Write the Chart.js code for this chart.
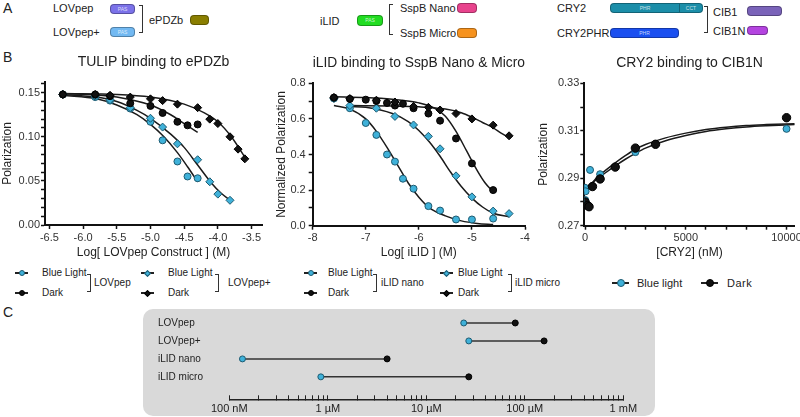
<!DOCTYPE html>
<html><head><meta charset="utf-8">
<script src="https://cdn.jsdelivr.net/npm/chart.js@4.4.1/dist/chart.umd.min.js"></script>
<style>
html,body{margin:0;padding:0;background:#fff;overflow:hidden}
body{width:800px;height:417px;position:relative;font-family:"Liberation Sans",Arial,Helvetica,sans-serif;color:#222}
.t{position:absolute;white-space:nowrap;line-height:1;transform:translateY(-50%)}
.pill{position:absolute;box-sizing:border-box;border-radius:4px;border:1px solid rgba(0,0,0,.3);font-size:5px;line-height:1;color:rgba(255,255,255,.75);display:flex;align-items:center;justify-content:center}
.br{position:absolute;box-sizing:border-box;border:1.2px solid #333}
canvas{position:absolute;z-index:5}
#cbox{position:absolute;left:143px;top:309px;width:512px;height:107px;background:#d9d9d9;border-radius:10px;z-index:1}
.mk{position:absolute;height:1.5px;background:#222}
.sym{position:absolute;box-sizing:border-box}
#legends{position:absolute;left:0;top:0;width:0;height:0}
</style></head>
<body>
<div class="t" style="left:3px;top:8px;font-size:14px">A</div>
<div class="t" style="left:3px;top:57px;font-size:14px">B</div>
<div class="t" style="left:3px;top:312px;font-size:14px">C</div>

<div class="t" style="left:53px;top:8px;font-size:11px">LOVpep</div>
<div class="t" style="left:53px;top:32px;font-size:11px">LOVpep+</div>
<div class="pill" style="left:110px;top:4px;width:25px;height:10px;background:#7b72e9">PAS</div>
<div class="pill" style="left:110px;top:27px;width:25px;height:10px;background:#72b9f2">PAS</div>
<div class="br" style="left:139px;top:5px;width:4px;height:28px;border-left:none"></div>
<div class="t" style="left:149px;top:20px;font-size:11px">ePDZb</div>
<div class="pill" style="left:190px;top:15px;width:19px;height:10px;background:#8a7e00"></div>
<div class="t" style="left:320px;top:21px;font-size:11px">iLID</div>
<div class="pill" style="left:357px;top:15px;width:26px;height:11px;background:#22dd22">PAS</div>
<div class="br" style="left:389px;top:4px;width:4px;height:31px;border-right:none"></div>
<div class="t" style="left:400px;top:8px;font-size:11px">SspB Nano</div>
<div class="pill" style="left:457px;top:3px;width:20px;height:10px;background:#e8438d"></div>
<div class="t" style="left:400px;top:33px;font-size:11px">SspB Micro</div>
<div class="pill" style="left:457px;top:28px;width:20px;height:10px;background:#f6921e"></div>
<div class="t" style="left:557px;top:8px;font-size:11px">CRY2</div>
<div class="pill" style="left:610px;top:3px;width:70px;height:10px;background:#1b8ea9;border-radius:4px 0 0 4px">PHR</div>
<div class="pill" style="left:679px;top:3px;width:24px;height:10px;background:#1b8ea9;border-radius:0 4px 4px 0">CCT</div>
<div class="t" style="left:557px;top:33px;font-size:11px">CRY2PHR</div>
<div class="pill" style="left:610px;top:28px;width:69px;height:10px;background:#1a4ff0">PHR</div>
<div class="br" style="left:704px;top:6px;width:4px;height:27px;border-left:none"></div>
<div class="t" style="left:713px;top:12px;font-size:11px">CIB1</div>
<div class="pill" style="left:747px;top:6px;width:35px;height:10px;background:#7a63b9"></div>
<div class="t" style="left:713px;top:31px;font-size:11px">CIB1N</div>
<div class="pill" style="left:747px;top:26px;width:21px;height:9px;background:#b444e0"></div>

<div id="legends"></div>
<div id="cbox"></div>
<canvas id="b1" width="270" height="210" style="left:0;top:50px"></canvas>
<canvas id="b2" width="263" height="210" style="left:272px;top:50px"></canvas>
<canvas id="b3" width="264" height="210" style="left:536px;top:50px"></canvas>
<canvas id="c1" width="490" height="108" style="left:158px;top:309px"></canvas>

<script>
// ================= DATA =================
// B1: TULIP binding to ePDZb (x = log[M], y = polarization)
const lovpepX        = [-6.3, -5.82, -5.6, -5.3, -5.0, -4.82, -4.6, -4.45, -4.3];
const lovpepBlue     = [0.148, 0.145, 0.141, 0.132, 0.117, 0.096, 0.072, 0.055, 0.053];
const lovpepDark     = [0.148, 0.148, 0.146, 0.138, 0.135, 0.127, 0.117, 0.113, 0.114];
const lovpepPlusX    = [-6.3, -5.82, -5.6, -5.3, -5.0, -4.82, -4.6, -4.3, -4.12, -4.0, -3.82, -3.7, -3.6];
const lovpepPlusBlue = [0.148, 0.146, 0.142, 0.133, 0.121, 0.111, 0.092, 0.074, 0.049, 0.035, 0.028];
const lovpepPlusDark = [0.148, 0.148, 0.147, 0.145, 0.143, 0.141, 0.137, 0.133, 0.120, 0.115, 0.100, 0.086, 0.075];
// fitted curves
const lovpepBlueFitX = [-6.3, -5.8, -5.5, -5.2, -5.0, -4.8, -4.6, -4.45, -4.3];
const lovpepBlueFitY = [0.147, 0.143, 0.136, 0.125, 0.114, 0.100, 0.082, 0.066, 0.049];
const lovpepDarkFitX = [-6.3, -5.8, -5.5, -5.0, -4.7, -4.5, -4.3];
const lovpepDarkFitY = [0.149, 0.1475, 0.145, 0.136, 0.125, 0.115, 0.105];
const lovpepPlusBlueFitX = [-6.3, -5.8, -5.5, -5.2, -5.0, -4.7, -4.5, -4.3, -4.1, -3.95, -3.8];
const lovpepPlusBlueFitY = [0.148, 0.145, 0.140, 0.130, 0.121, 0.103, 0.088, 0.068, 0.048, 0.036, 0.027];
const lovpepPlusDarkFitX = [-6.3, -5.5, -5.0, -4.5, -4.2, -4.0, -3.8, -3.6];
const lovpepPlusDarkFitY = [0.149, 0.148, 0.145, 0.137, 0.127, 0.117, 0.100, 0.077];
const b1XTicks = [-6.5, -6.0, -5.5, -5.0, -4.5, -4.0, -3.5];
const b1XLabels = ['-6.5', '-6.0', '-5.5', '-5.0', '-4.5', '-4.0', '-3.5'];
const b1YTicks = [0, 0.05, 0.10, 0.15];
const b1YLabels = ['0.00', '0.05', '0.10', '0.15'];

// B2: iLID binding to SspB Nano & Micro
const nanoX      = [-7.6, -7.3, -7.0, -6.8, -6.6, -6.45, -6.3, -6.1, -5.82, -5.6, -5.3, -5.0, -4.6];
const nanoBlue   = [0.715, 0.66, 0.577, 0.51, 0.40, 0.36, 0.264, 0.208, 0.11, 0.085, 0.035, 0.035, 0.04];
const nanoDark   = [0.72, 0.712, 0.708, 0.70, 0.69, 0.675, 0.685, 0.66, 0.63, 0.59, 0.49, 0.35, 0.20];
const microX     = [-7.6, -7.3, -6.8, -6.45, -6.1, -5.82, -5.6, -5.3, -5.0, -4.6, -4.3];
const microBlue  = [0.715, 0.675, 0.66, 0.614, 0.566, 0.502, 0.432, 0.28, 0.162, 0.082, 0.068];
const microDark  = [0.72, 0.714, 0.705, 0.695, 0.67, 0.665, 0.65, 0.63, 0.60, 0.565, 0.505];
const nanoBlueFitX  = [-7.6, -7.3, -7.0, -6.8, -6.6, -6.4, -6.2, -6.0, -5.8, -5.5, -5.2, -4.9, -4.6];
const nanoBlueFitY  = [0.675, 0.655, 0.60, 0.53, 0.44, 0.34, 0.24, 0.16, 0.10, 0.055, 0.027, 0.013, 0.007];
const microBlueFitX = [-7.3, -7.0, -6.5, -6.2, -6.0, -5.8, -5.6, -5.4, -5.2, -5.0, -4.8, -4.6, -4.3];
const microBlueFitY = [0.67, 0.665, 0.63, 0.585, 0.535, 0.47, 0.39, 0.30, 0.22, 0.155, 0.105, 0.07, 0.05];
const nanoDarkFitX  = [-7.6, -7.0, -6.5, -6.0, -5.7, -5.5, -5.3, -5.1, -4.9, -4.75, -4.6];
const nanoDarkFitY  = [0.725, 0.72, 0.71, 0.69, 0.66, 0.615, 0.53, 0.42, 0.31, 0.24, 0.19];
const microDarkFitX = [-7.3, -6.5, -6.0, -5.5, -5.2, -5.0, -4.8, -4.6, -4.45, -4.3];
const microDarkFitY = [0.675, 0.672, 0.668, 0.655, 0.635, 0.61, 0.58, 0.55, 0.52, 0.495];
const b2XTicks = [-8, -7, -6, -5, -4];
const b2XLabels = ['-8', '-7', '-6', '-5', '-4'];
const b2YTicks = [0, 0.2, 0.4, 0.6, 0.8];
const b2YLabels = ['0.0', '0.2', '0.4', '0.6', '0.8'];

// B3: CRY2 binding to CIB1N (x = nM)
const cryBlueX = [0, 15, 30, 250, 750, 2500, 10000];
const cryBlue  = [0.2860, 0.2808, 0.2845, 0.2935, 0.2917, 0.3010, 0.3108];
const cryDarkX = [0, 125, 200, 370, 750, 1500, 2500, 3500, 10000];
const cryDark  = [0.2800, 0.2785, 0.2780, 0.2865, 0.2897, 0.2947, 0.3027, 0.3043, 0.3155];
const cryFitX     = [0, 250, 500, 1000, 1500, 2000, 2500, 3000, 4000, 5000, 6000, 7000, 8000, 9000, 10400];
const cryDarkFitY = [0.2852, 0.2870, 0.2895, 0.2932, 0.2965, 0.2995, 0.3022, 0.3042, 0.3070, 0.3090, 0.3105, 0.3115, 0.3122, 0.3126, 0.3130];
const cryBlueFitY = [0.2858, 0.2872, 0.2890, 0.2922, 0.2952, 0.2980, 0.3005, 0.3027, 0.3058, 0.3080, 0.3097, 0.3108, 0.3116, 0.3121, 0.3126];
const b3XTicks = [0, 5000, 10000];
const b3XLabels = ['0', '5000', '10000'];
const b3YTicks = [0.27, 0.29, 0.31, 0.33];
const b3YLabels = ['0.27', '0.29', '0.31', '0.33'];

// C: affinity ranges (µM)
const cRows   = ['LOVpep', 'LOVpep+', 'iLID nano', 'iLID micro'];
const kdBlue  = [24, 27, 0.136, 0.85];
const kdDark  = [80, 157, 4.0, 27];
const cTickVals   = [0.1, 1, 10, 100, 1000];
const cTickLabels = ['100 nM', '1 µM', '10 µM', '100 µM', '1 mM'];

// ================= STYLE / HELPERS =================
const FONT = '"Liberation Sans", Arial, Helvetica, sans-serif';
Chart.defaults.font.family = FONT;
Chart.defaults.color = '#222';
const BLUE = '#3fb1d9', BLUE_EDGE = '#1d5a70', BLACK = '#111';

const pts = (xs, ys) => ys.map((y, i) => ({x: xs[i], y}));
const near = (a, b) => Math.abs(a - b) < 1e-6 * Math.max(1, Math.abs(b));
const labelFrom = (vals, labels) => v => { const i = vals.findIndex(t => near(t, Number(v))); return i >= 0 ? labels[i] : ''; };
function withMinor(major, step, min, max) {
  const out = [];
  for (let v = min; v <= max + 1e-9; v += step) out.push(Math.round(v / step) * step);
  major.forEach(m => { if (!out.some(o => near(o, m))) out.push(m); });
  return out.sort((a, b) => a - b);
}

function axisX(min, max, tickVals, majorVals, majorLabels, title, h, pad) {
  return { type: 'linear', position: 'bottom', min, max, bounds: 'data',
    afterBuildTicks: s => { s.ticks = tickVals.map(v => ({value: v})); },
    afterFit: s => { s.height = h; s.paddingLeft = 0; s.paddingRight = 0; },
    ticks: { autoSkip: false, maxRotation: 0, minRotation: 0, padding: pad, font: {size: 11}, color: '#333',
             callback: labelFrom(majorVals, majorLabels) },
    grid: { drawOnChartArea: false, tickLength: 4, tickColor: '#111', tickWidth: 1.5 },
    border: { color: '#111', width: 2 },
    title: { display: true, text: title, font: {size: 12}, color: '#222', padding: 0 } };
}
function axisY(min, max, tickVals, majorVals, majorLabels, title, w, pad, tpad) {
  return { type: 'linear', position: 'left', min, max, bounds: 'data',
    afterBuildTicks: s => { s.ticks = tickVals.map(v => ({value: v})); },
    afterFit: s => { s.width = w; s.paddingTop = 0; s.paddingBottom = 0; },
    ticks: { autoSkip: false, padding: pad, font: {size: 11}, color: '#333',
             callback: labelFrom(majorVals, majorLabels) },
    grid: { drawOnChartArea: false, tickLength: 4, tickColor: '#111', tickWidth: 1.5 },
    border: { color: '#111', width: 2 },
    title: { display: true, text: title, font: {size: 12}, color: '#222', padding: {top: tpad, bottom: 0} } };
}
const dsPts = (xs, ys, blue, style, r) => ({ data: pts(xs, ys), showLine: false, pointStyle: style, pointRadius: r,
  pointBackgroundColor: blue ? BLUE : BLACK, pointBorderColor: blue ? BLUE_EDGE : '#000', pointBorderWidth: 1, order: 0 });
const dsFit = (xs, ys) => ({ data: pts(xs, ys), showLine: true, pointRadius: 0, borderColor: '#1a1a1a', borderWidth: 1.5,
  cubicInterpolationMode: 'monotone', fill: false, order: 1 });
function opts(title, x, y, pad) {
  return { responsive: false, animation: false, events: [], layout: {padding: pad},
    plugins: { legend: {display: false}, tooltip: {enabled: false},
      title: { display: true, text: title, fullSize: false, font: {size: 14, weight: 'normal'}, color: '#222',
               padding: {top: 3.6, bottom: 11.6} } },
    scales: {x, y} };
}

// ================= B1 =================
const b1x = axisX(-6.565, -3.345, b1XTicks, b1XTicks, b1XLabels, 'Log[ LOVpep Construct ] (M)', 35, 2);
b1x.ticks.callback = (v, i) => b1XLabels[i];
new Chart(document.getElementById('b1'), {
  type: 'scatter',
  data: { datasets: [
    dsPts(lovpepPlusX, lovpepPlusDark, false, 'rectRot', 4),
    dsPts(lovpepX, lovpepDark, false, 'circle', 3.5),
    dsPts(lovpepPlusX, lovpepPlusBlue, true, 'rectRot', 4),
    dsPts(lovpepX, lovpepBlue, true, 'circle', 3.5),
    dsFit(lovpepBlueFitX, lovpepBlueFitY),
    dsFit(lovpepDarkFitX, lovpepDarkFitY),
    dsFit(lovpepPlusBlueFitX, lovpepPlusBlueFitY),
    dsFit(lovpepPlusDarkFitX, lovpepPlusDarkFitY)
  ]},
  options: opts('TULIP binding to ePDZb',
    b1x,
    axisY(0, 0.1621, withMinor(b1YTicks, 0.01, 0, 0.16), b1YTicks, b1YLabels, 'Polarization', 45, 1, 0),
    {top: 0, right: 8, left: 0, bottom: 0})
});

// ================= B2 =================
new Chart(document.getElementById('b2'), {
  type: 'scatter',
  data: { datasets: [
    dsPts(microX, microDark, false, 'rectRot', 4),
    dsPts(nanoX, nanoDark, false, 'circle', 3.5),
    dsPts(microX, microBlue, true, 'rectRot', 4),
    dsPts(nanoX, nanoBlue, true, 'circle', 3.5),
    dsFit(nanoBlueFitX, nanoBlueFitY),
    dsFit(microBlueFitX, microBlueFitY),
    dsFit(nanoDarkFitX, nanoDarkFitY),
    dsFit(microDarkFitX, microDarkFitY)
  ]},
  options: opts('iLID binding to SspB Nano & Micro',
    axisX(-8, -4, b2XTicks, b2XTicks, b2XLabels, 'Log[ iLID ] (M)', 34.3, 2),
    axisY(0, 0.8, withMinor(b2YTicks, 0.1, 0, 0.8), b2YTicks, b2YLabels, 'Normalized Polarization', 40.7, 3, 2),
    {top: 1.3, right: 10, left: 0, bottom: 0})
});

// ================= B3 =================
new Chart(document.getElementById('b3'), {
  type: 'scatter',
  data: { datasets: [
    dsPts(cryDarkX, cryDark, false, 'circle', 4.2),
    dsPts(cryBlueX, cryBlue, true, 'circle', 3.5),
    dsFit(cryFitX, cryDarkFitY),
    dsFit(cryFitX, cryBlueFitY)
  ]},
  options: opts('CRY2 binding to CIB1N',
    axisX(-35, 10410, withMinor(b3XTicks, 1000, 0, 10000), b3XTicks, b3XLabels, '[CRY2] (nM)', 34.3, 2),
    axisY(0.27, 0.33, withMinor(b3YTicks, 0.01, 0.27, 0.33), b3YTicks, b3YLabels, 'Polarization', 48.3, 1, 0),
    {top: 1.3, right: 3.3, left: 0, bottom: 0})
});

// ================= C =================
const cMinor = [];
[0.1, 1, 10, 100].forEach(d => { for (let k = 1; k <= 9; k++) cMinor.push(d * k); });
cMinor.push(1000);
new Chart(document.getElementById('c1'), {
  type: 'scatter',
  data: { datasets: [
    { data: pts(kdBlue, cRows.map((r, i) => i)), showLine: false, pointRadius: 3, pointBackgroundColor: BLUE,
      pointBorderColor: BLUE_EDGE, pointBorderWidth: 1, order: 0 },
    { data: pts(kdDark, cRows.map((r, i) => i)), showLine: false, pointRadius: 3, pointBackgroundColor: BLACK,
      pointBorderColor: '#000', pointBorderWidth: 1, order: 0 },
    ...cRows.map((r, i) => ({ data: [{x: kdBlue[i], y: i}, {x: kdDark[i], y: i}], showLine: true, pointRadius: 0,
      borderColor: '#333', borderWidth: 1.5, order: 1 }))
  ]},
  options: { responsive: false, animation: false, events: [],
    layout: {padding: {top: 4.3, right: 24.7, left: 0, bottom: 0}},
    plugins: {legend: {display: false}, tooltip: {enabled: false}},
    scales: {
      x: { type: 'logarithmic', min: 0.1, max: 1000, bounds: 'data',
        afterBuildTicks: s => { s.ticks = cMinor.map(v => ({value: v})); },
        afterFit: s => { s.height = 17.7; s.paddingLeft = 0; s.paddingRight = 0; },
        ticks: { autoSkip: false, maxRotation: 0, padding: 7, font: {size: 11}, color: '#222',
                 callback: labelFrom(cTickVals, cTickLabels) },
        grid: { drawOnChartArea: false, tickLength: -4, tickColor: '#222', tickWidth: 1 },
        border: { color: '#222', width: 1.5 } },
      y: { type: 'linear', position: 'left', min: -0.5, max: 4.25, reverse: true, bounds: 'data',
        afterBuildTicks: s => { s.ticks = cRows.map((r, i) => ({value: i})); },
        afterFit: s => { s.width = 71.3; s.paddingTop = 0; s.paddingBottom = 0; },
        ticks: { autoSkip: false, crossAlign: 'far', font: {size: 10}, color: '#222',
                 callback: v => cRows[v] ?? '' },
        grid: { display: false }, border: { display: false } }
    } }
});

// ================= Legends (HTML) =================
const L = document.getElementById('legends');
function add(html) { L.insertAdjacentHTML('beforeend', html); }
function mark(x, y, kind, w) {
  w = w || 13;
  add(`<div class="mk" style="left:${x}px;top:${y - 0.75}px;width:${w}px"></div>`);
  const cx = x + w / 2;
  const blue = kind.startsWith('blue');
  const fill = blue ? BLUE : BLACK, edge = blue ? BLUE_EDGE : '#000';
  if (kind.endsWith('Diamond')) {
    const s = 5;
    add(`<div class="sym" style="left:${cx - s / 2}px;top:${y - s / 2}px;width:${s}px;height:${s}px;background:${fill};border:1px solid ${edge};transform:rotate(45deg)"></div>`);
  } else {
    const s = kind.endsWith('Big') ? 8 : 6;
    add(`<div class="sym" style="left:${cx - s / 2}px;top:${y - s / 2}px;width:${s}px;height:${s}px;border-radius:50%;background:${fill};border:1px solid ${edge}"></div>`);
  }
}
function txt(x, y, s, size, extra) { add(`<div class="t" style="left:${x}px;top:${y}px;font-size:${size}px;${extra || ''}">${s}</div>`); }
function bracket(x, y1, y2) { add(`<div class="br" style="left:${x}px;top:${y1}px;width:4px;height:${y2 - y1}px;border-left:none;border-width:1px"></div>`); }

mark(15, 273, 'blueCircle'); txt(42, 273, 'Blue Light', 10);
mark(15, 293, 'blackCircle'); txt(42, 293, 'Dark', 10);
bracket(87, 274, 292); txt(94, 283, 'LOVpep', 10);
mark(141, 273, 'blueDiamond'); txt(168, 273, 'Blue Light', 10);
mark(141, 293, 'blackDiamond'); txt(168, 293, 'Dark', 10);
bracket(215, 274, 292); txt(228, 283, 'LOVpep+', 10);
mark(304, 273, 'blueCircle'); txt(328, 273, 'Blue Light', 10);
mark(304, 293, 'blackCircle'); txt(328, 293, 'Dark', 10);
bracket(373, 274, 292); txt(381, 283, 'iLID nano', 10);
mark(440, 273, 'blueDiamond'); txt(458, 273, 'Blue Light', 10);
mark(440, 293, 'blackDiamond'); txt(458, 293, 'Dark', 10);
bracket(508, 274, 292); txt(515, 283, 'iLID micro', 10);
mark(612, 283, 'blueCircleBig', 17); txt(637, 283, 'Blue light', 11);
mark(701, 283, 'blackCircleBig', 17); txt(727, 283, 'Dark', 11, 'letter-spacing:0.5px');
</script>
</body></html>
